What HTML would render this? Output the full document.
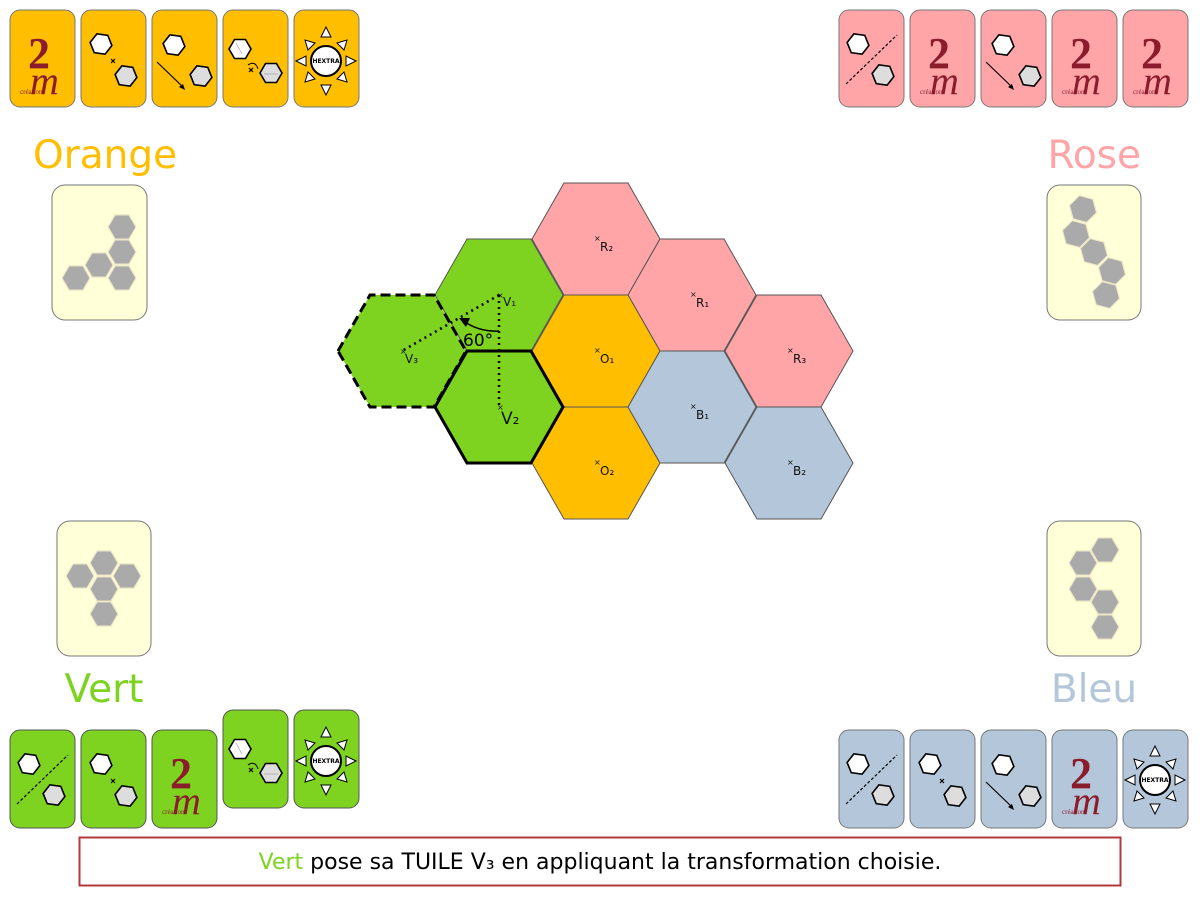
<!DOCTYPE html>
<html><head><meta charset="utf-8"><style>
html,body{margin:0;padding:0;background:#fff;}
svg{display:block;font-family:"DejaVu Sans","Liberation Sans",sans-serif;}
</style></head><body>
<svg width="1200" height="900" viewBox="0 0 1200 900" xmlns="http://www.w3.org/2000/svg">
<defs>
<path id="hx" d="M-11,0 L-5.5,-9.5 L5.5,-9.5 L11,0 L5.5,9.5 L-5.5,9.5Z"/>
<path id="sh" d="M-14,0 L-7,-12.1 L7,-12.1 L14,0 L7,12.1 L-7,12.1Z" fill="#aaa" stroke="#eee8c8" stroke-width="1.2"/>
<path id="big" d="M-64,0 L-32,-56 L32,-56 L64,0 L32,56 L-32,56Z"/>
<g id="axial">
 <use href="#hx" transform="translate(19,34) rotate(8)" fill="#fff" stroke="#000" stroke-width="1.6"/>
 <use href="#hx" transform="translate(44,65) rotate(8)" fill="#ddd" stroke="#000" stroke-width="1.6"/>
 <line x1="7" y1="74" x2="58" y2="25" stroke="#000" stroke-width="1.2" stroke-dasharray="3,2"/>
</g>
<g id="point">
 <use href="#hx" transform="translate(20,34) rotate(8)" fill="#fff" stroke="#000" stroke-width="1.6"/>
 <use href="#hx" transform="translate(45,66) rotate(8)" fill="#ddd" stroke="#000" stroke-width="1.6"/>
 <path d="M30,49 L34,53 M34,49 L30,53" stroke="#000" stroke-width="1.2"/>
</g>
<g id="trans">
 <use href="#hx" transform="translate(22,35) rotate(8)" fill="#fff" stroke="#000" stroke-width="1.6"/>
 <use href="#hx" transform="translate(49,66) rotate(8)" fill="#ddd" stroke="#000" stroke-width="1.6"/>
 <line x1="5" y1="52" x2="31" y2="77" stroke="#000" stroke-width="1.2"/>
 <path d="M33,80 L27,77 L31,74Z" fill="#000"/>
</g>
<g id="rot">
 <use href="#hx" transform="translate(17,39) rotate(0)" fill="#fff" stroke="#000" stroke-width="1.6"/>
 <use href="#hx" transform="translate(48,63)" fill="#ddd" stroke="#000" stroke-width="1.6"/>
 <line x1="13" y1="33" x2="19" y2="44" stroke="#999" stroke-width="0.6"/>
 <line x1="41" y1="64" x2="55" y2="64" stroke="#999" stroke-width="0.6"/>
 <path d="M25,55 Q32,50 35,59" fill="none" stroke="#000" stroke-width="1"/>
 <path d="M26,58 L30,62 M30,58 L26,62" stroke="#000" stroke-width="1.2"/>
</g>
<g id="sun">
 <g fill="#fff" stroke="#000" stroke-width="1">
  <path d="M32,19 L27,29 L37,29Z"/><path d="M32,87 L27,77 L37,77Z"/>
  <path d="M2,53 L12,48 L12,58Z"/><path d="M62,53 L52,48 L52,58Z"/>
  <path d="M11,32 L14,42 L21,35Z"/><path d="M53,32 L43,35 L50,42Z"/>
  <path d="M11,74 L21,71 L14,64Z"/><path d="M53,74 L50,64 L43,71Z"/>
 </g>
 <circle cx="32" cy="53" r="15" fill="#fff" stroke="#000" stroke-width="2"/>
</g>
</defs>

<!-- Top-left orange cards -->
<g stroke="#777" stroke-width="1" fill="#FFBE00">
 <rect x="10" y="10" width="65" height="97" rx="10"/><rect x="81" y="10" width="65" height="97" rx="10"/>
 <rect x="152" y="10" width="65" height="97" rx="10"/><rect x="223" y="10" width="65" height="97" rx="10"/>
 <rect x="294" y="10" width="65" height="97" rx="10"/>
</g>
<g transform="translate(10,10)"><text x="18" y="58" font-family="Liberation Serif,serif" font-weight="bold" font-size="44" fill="#8a1c2c">2</text><text x="20" y="84" font-family="Liberation Serif,serif" font-style="italic" font-size="40" fill="#8a1c2c">m</text><text x="10" y="84" font-size="7" fill="#8a1c2c" font-family="Liberation Serif,serif">création</text></g>
<use href="#point" x="81" y="10"/><use href="#trans" x="152" y="10"/><use href="#rot" x="223" y="10"/><use href="#sun" x="294" y="8"/>
<text x="326" y="63" font-size="6" font-weight="bold" text-anchor="middle">HEXTRA</text>

<!-- Top-right rose cards -->
<g stroke="#777" stroke-width="1" fill="#FFA5A8">
 <rect x="839" y="10" width="65" height="97" rx="10"/><rect x="910" y="10" width="65" height="97" rx="10"/>
 <rect x="981" y="10" width="65" height="97" rx="10"/><rect x="1052" y="10" width="65" height="97" rx="10"/>
 <rect x="1123" y="10" width="65" height="97" rx="10"/>
</g>
<use href="#axial" x="839" y="10"/><use href="#trans" x="981" y="10"/>
<g transform="translate(910,10)"><text x="18" y="58" font-family="Liberation Serif,serif" font-weight="bold" font-size="44" fill="#8a1c2c">2</text><text x="20" y="84" font-family="Liberation Serif,serif" font-style="italic" font-size="40" fill="#8a1c2c">m</text><text x="10" y="84" font-size="7" fill="#8a1c2c" font-family="Liberation Serif,serif">création</text></g>
<g transform="translate(1052,10)"><text x="18" y="58" font-family="Liberation Serif,serif" font-weight="bold" font-size="44" fill="#8a1c2c">2</text><text x="20" y="84" font-family="Liberation Serif,serif" font-style="italic" font-size="40" fill="#8a1c2c">m</text><text x="10" y="84" font-size="7" fill="#8a1c2c" font-family="Liberation Serif,serif">création</text></g>
<g transform="translate(1123,10)"><text x="18" y="58" font-family="Liberation Serif,serif" font-weight="bold" font-size="44" fill="#8a1c2c">2</text><text x="20" y="84" font-family="Liberation Serif,serif" font-style="italic" font-size="40" fill="#8a1c2c">m</text><text x="10" y="84" font-size="7" fill="#8a1c2c" font-family="Liberation Serif,serif">création</text></g>

<!-- Bottom-left vert cards -->
<g stroke="#555" stroke-width="1" fill="#7ED321">
 <rect x="10" y="730" width="65" height="98" rx="10"/><rect x="81" y="730" width="65" height="98" rx="10"/>
 <rect x="152" y="730" width="65" height="98" rx="10"/><rect x="223" y="710" width="65" height="98" rx="10"/>
 <rect x="294" y="710" width="65" height="98" rx="10"/>
</g>
<use href="#axial" x="10" y="730"/><use href="#point" x="81" y="730"/><use href="#rot" x="223" y="710"/><use href="#sun" x="294" y="708"/>
<text x="326" y="763" font-size="6" font-weight="bold" text-anchor="middle">HEXTRA</text>
<g transform="translate(152,730)"><text x="18" y="58" font-family="Liberation Serif,serif" font-weight="bold" font-size="44" fill="#8a1c2c">2</text><text x="20" y="84" font-family="Liberation Serif,serif" font-style="italic" font-size="40" fill="#8a1c2c">m</text><text x="10" y="84" font-size="7" fill="#8a1c2c" font-family="Liberation Serif,serif">création</text></g>

<!-- Bottom-right bleu cards -->
<g stroke="#777" stroke-width="1" fill="#B4C7DA">
 <rect x="839" y="730" width="65" height="98" rx="10"/><rect x="910" y="730" width="65" height="98" rx="10"/>
 <rect x="981" y="730" width="65" height="98" rx="10"/><rect x="1052" y="730" width="65" height="98" rx="10"/>
 <rect x="1123" y="730" width="65" height="98" rx="10"/>
</g>
<use href="#axial" x="839" y="730"/><use href="#point" x="910" y="730"/><use href="#trans" x="981" y="730"/><use href="#sun" x="1123" y="727"/>
<text x="1155" y="782" font-size="6" font-weight="bold" text-anchor="middle">HEXTRA</text>
<g transform="translate(1052,730)"><text x="18" y="58" font-family="Liberation Serif,serif" font-weight="bold" font-size="44" fill="#8a1c2c">2</text><text x="20" y="84" font-family="Liberation Serif,serif" font-style="italic" font-size="40" fill="#8a1c2c">m</text><text x="10" y="84" font-size="7" fill="#8a1c2c" font-family="Liberation Serif,serif">création</text></g>

<!-- Player names -->
<text x="33" y="168" font-size="39" fill="#FFBE00">Orange</text>
<text x="1141" y="168" font-size="39" fill="#FFA5A8" text-anchor="end">Rose</text>
<text x="104" y="702" font-size="39" fill="#7ED321" text-anchor="middle">Vert</text>
<text x="1094" y="702" font-size="39" fill="#B4C7DA" text-anchor="middle">Bleu</text>

<!-- Pale shape cards -->
<g fill="#FFFFD8" stroke="#777" stroke-width="1">
 <rect x="52" y="185" width="95" height="135" rx="13"/>
 <rect x="1047" y="185" width="94" height="135" rx="13"/>
 <rect x="57" y="521" width="94" height="135" rx="13"/>
 <rect x="1047" y="521" width="94" height="135" rx="13"/>
</g>
<use href="#sh" x="122" y="227"/><use href="#sh" x="122" y="252"/><use href="#sh" x="99" y="265"/><use href="#sh" x="76" y="278"/><use href="#sh" x="122" y="278"/>
<use href="#sh" transform="translate(1083,209) rotate(15)"/>
<use href="#sh" transform="translate(1076,234) rotate(15)"/>
<use href="#sh" transform="translate(1094,252) rotate(15)"/>
<use href="#sh" transform="translate(1112,271) rotate(15)"/>
<use href="#sh" transform="translate(1106,295) rotate(15)"/>
<use href="#sh" x="104" y="563"/><use href="#sh" x="80" y="576"/><use href="#sh" x="127" y="576"/><use href="#sh" x="104" y="589"/><use href="#sh" x="104" y="614"/>
<use href="#sh" x="1105" y="550"/><use href="#sh" x="1083" y="563"/><use href="#sh" x="1083" y="589"/><use href="#sh" x="1105" y="602"/><use href="#sh" x="1105" y="627"/>

<!-- Main board -->
<g stroke="#555" stroke-width="1">
 <use href="#big" x="596" y="239" fill="#FFA5A8"/>
 <use href="#big" x="692" y="295" fill="#FFA5A8"/>
 <use href="#big" x="789" y="351" fill="#FFA5A8"/>
 <use href="#big" x="596" y="351" fill="#FFBE00"/>
 <use href="#big" x="596" y="463" fill="#FFBE00"/>
 <use href="#big" x="692" y="407" fill="#B4C7DA"/>
 <use href="#big" x="789" y="463" fill="#B4C7DA"/>
 <use href="#big" x="499" y="295" fill="#7ED321"/>
</g>
<use href="#big" x="402" y="351" fill="#7ED321" stroke="#000" stroke-width="3" stroke-dasharray="10,5"/>
<use href="#big" x="499" y="407" fill="#7ED321" stroke="#000" stroke-width="3"/>

<g stroke="#000" stroke-width="2.5" stroke-dasharray="2,4" fill="none">
 <line x1="499" y1="295" x2="499" y2="407"/>
 <line x1="499" y1="295" x2="402" y2="351"/>
</g>
<path d="M499,331 Q480,332 465,322" fill="none" stroke="#000" stroke-width="1.5"/>
<path d="M459,318 L470,318 L466,327Z" fill="#000"/>
<text x="463" y="346" font-size="17">60°</text>

<g font-size="12" fill="#111">
 <text x="594" y="241" font-size="8">×</text><text x="600" y="251">R₂</text>
 <text x="690" y="297" font-size="8">×</text><text x="696" y="307">R₁</text>
 <text x="787" y="353" font-size="8">×</text><text x="793" y="363">R₃</text>
 <text x="594" y="353" font-size="8">×</text><text x="600" y="363">O₁</text>
 <text x="594" y="465" font-size="8">×</text><text x="600" y="475">O₂</text>
 <text x="690" y="409" font-size="8">×</text><text x="696" y="419">B₁</text>
 <text x="787" y="465" font-size="8">×</text><text x="793" y="475">B₂</text>
 <text x="497" y="298" font-size="8">×</text><text x="503" y="306">V₁</text>
 <text x="400" y="354" font-size="8">×</text><text x="405" y="363">V₃</text>
 <text x="497" y="410" font-size="8">×</text><text x="501" y="424" font-size="17">V₂</text>
</g>

<!-- message box -->
<rect x="79.5" y="837.5" width="1041" height="48" fill="#fff" stroke="#B03A3A" stroke-width="2"/>
<text x="600" y="869" font-size="22" text-anchor="middle" fill="#000"><tspan fill="#7ED321">Vert</tspan> pose sa TUILE V₃ en appliquant la transformation choisie.</text>
</svg>
</body></html>
